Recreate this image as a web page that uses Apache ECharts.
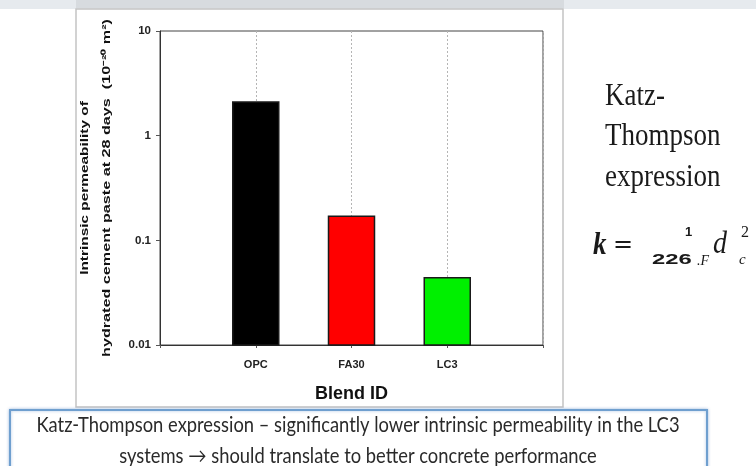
<!DOCTYPE html>
<html>
<head>
<meta charset="utf-8">
<script src="https://cdn.jsdelivr.net/npm/echarts@6/dist/echarts.min.js"></script>
<style>
  html, body { margin: 0; padding: 0; background: #ffffff; }
  #chart { width: 756px; height: 466px; }
</style>
</head>
<body>
<div id="chart"></div>
<script>
// Intrinsic permeability of hydrated cement paste at 28 days, per blend
const categories = ['OPC', 'FA30', 'LC3'];
const permeability = [2.1, 0.17, 0.044];          // 10^-20 m^2
const barColors = ['#000000', '#ff0000', '#00f000'];
const yTickLabels = ['0.01', '0.1', '1', '10'];
const yFloor = 0.01;                               // bars rise from the bottom of the log axis

const yTitleLines = ['Intrinsic permeability of', 'hydrated cement paste at 28 days  (10\u207B\u00B2\u2070 m\u00B2)'];
const xTitle = 'Blend ID';
const sideLines = ['Katz-', 'Thompson', 'expression'];
const noteLines = [
  'Katz-Thompson expression \u2013 significantly lower intrinsic permeability in the LC3',
  'systems \u2192 should translate to better concrete performance'
];

// one empty slot on each side keeps the bars off the frame
const xSlots = [''].concat(categories, ['']);
const barData = permeability.map((v, i) => [categories[i], v, i]);

const chart = echarts.init(document.getElementById('chart'), null, { renderer: 'canvas' });

const graphics = [
  // header strip
  { type: 'rect', shape: { x: 0, y: 0, width: 756, height: 9 }, style: { fill: '#e6eaee' }, z: 0 },
  { type: 'rect', shape: { x: 76, y: 0, width: 488, height: 8 }, style: { fill: '#d7dbdf' }, z: 0 },
  // chart panel
  { type: 'rect', shape: { x: 76, y: 9, width: 487, height: 398 },
    style: { fill: '#ffffff', stroke: '#c4c4c4', lineWidth: 1.5 }, z: 0 },
  // note box
  { type: 'rect', shape: { x: 10, y: 410, width: 697, height: 70 },
    style: { fill: '#ffffff', stroke: '#6f9fcf', lineWidth: 2, shadowBlur: 3, shadowColor: 'rgba(90,140,200,0.5)' }, z: 0 }
];

// rotated y axis title
yTitleLines.forEach((t, i) => {
  graphics.push({
    type: 'text', x: 85 + i * 22, y: 188, rotation: Math.PI / 2, scaleX: i === 0 ? 1.4 : 1.47,
    style: { text: t, fontFamily: 'Liberation Sans, Arial', fontWeight: 'bold', fontSize: 11,
             fill: '#111', align: 'center', verticalAlign: 'middle' },
    z: 5
  });
});

// side caption
const sideY = [96, 136, 177];
sideLines.forEach((t, i) => {
  graphics.push({
    type: 'text', x: 605, y: sideY[i], scaleY: 1.2,
    style: { text: t, fontFamily: 'Liberation Serif', fontSize: 27, fill: '#1a1a1a',
             align: 'left', verticalAlign: 'middle' },
    z: 5
  });
});

// k = 1 / (226 .F) d_c^2
const formula = [
  { text: 'k', x: 593, y: 246, font: 'italic bold 27px Liberation Serif', sy: 1.15 },
  { text: '=', x: 613, y: 246, font: '24px DejaVu Sans', sy: 1 },
  { text: '1', x: 685, y: 232, font: 'bold 13px Liberation Sans', sy: 1 },
  { text: '226', x: 652, y: 260, font: 'bold 14px Liberation Sans', sy: 1, sx: 1.7 },
  { text: '.F', x: 697, y: 261, font: 'italic 14px Liberation Serif', sy: 1 },
  { text: 'd', x: 713, y: 245, font: 'italic 28px Liberation Serif', sy: 1.1 },
  { text: 'c', x: 739, y: 260, font: 'italic 15px Liberation Serif', sy: 1 },
  { text: '2', x: 741, y: 233, font: '16px Liberation Serif', sy: 1 }
];
formula.forEach(f => {
  graphics.push({
    type: 'text', x: f.x, y: f.y, scaleY: f.sy, scaleX: f.sx || 1,
    style: { text: f.text, font: f.font, fill: '#1a1a1a', align: 'left', verticalAlign: 'middle' },
    z: 5
  });
});

// note text
const noteY = [425, 456];
noteLines.forEach((t, i) => {
  graphics.push({
    type: 'text', x: 358, y: noteY[i], scaleY: 1.2, scaleX: 1.08,
    style: { text: t, fontFamily: 'Lato', fontSize: 17, fill: '#2a2a2a',
             align: 'center', verticalAlign: 'middle' },
    z: 5
  });
});

chart.setOption({
  backgroundColor: '#ffffff',
  animation: false,
  graphic: { elements: graphics },
  grid: {
    left: 160, right: 213, top: 31, bottom: 121,
    show: true, borderColor: '#444', borderWidth: 1, backgroundColor: 'transparent', z: 3
  },
  xAxis: {
    type: 'category',
    data: xSlots,
    boundaryGap: false,
    name: xTitle,
    nameLocation: 'middle',
    nameGap: 40,
    nameTextStyle: { fontFamily: 'Liberation Sans', fontWeight: 'bold', fontSize: 18, color: '#111' },
    axisLine: { lineStyle: { color: '#333', width: 1 } },
    axisTick: { show: true, length: 3, inside: false, lineStyle: { color: '#555' } },
    axisLabel: { interval: 0, margin: 14, fontFamily: 'Liberation Sans', fontWeight: 'bold',
                 fontSize: 11, color: '#222' },
    splitLine: { show: true, lineStyle: { color: '#b5b5b5', type: [2, 2], width: 1 } },
    z: 4
  },
  yAxis: {
    type: 'log',
    logBase: 10,
    min: 0.01,
    max: 10,
    axisLine: { show: true, lineStyle: { color: '#333', width: 1 } },
    axisTick: { show: true, length: 4, lineStyle: { color: '#555' } },
    axisLabel: {
      margin: 9, fontFamily: 'Liberation Sans', fontWeight: 'bold', fontSize: 11.5, color: '#222',
      formatter: v => yTickLabels[Math.round(Math.log10(v)) + 2]
    },
    minorTick: { show: false },
    splitLine: { show: false },
    z: 4
  },
  series: [{
    type: 'custom',
    data: barData,
    encode: { x: 0, y: 1 },
    renderItem: (params, api) => {
      const top = api.coord([api.value(0), api.value(1)]);
      const base = api.coord([api.value(0), yFloor]);
      const w = 46;
      return {
        type: 'rect',
        shape: { x: top[0] - w / 2, y: top[1], width: w, height: base[1] - top[1] },
        style: { fill: barColors[api.value(2)], stroke: '#1a1a1a', lineWidth: 1.5 }
      };
    },
    z: 5
  }]
});
</script>
</body>
</html>
